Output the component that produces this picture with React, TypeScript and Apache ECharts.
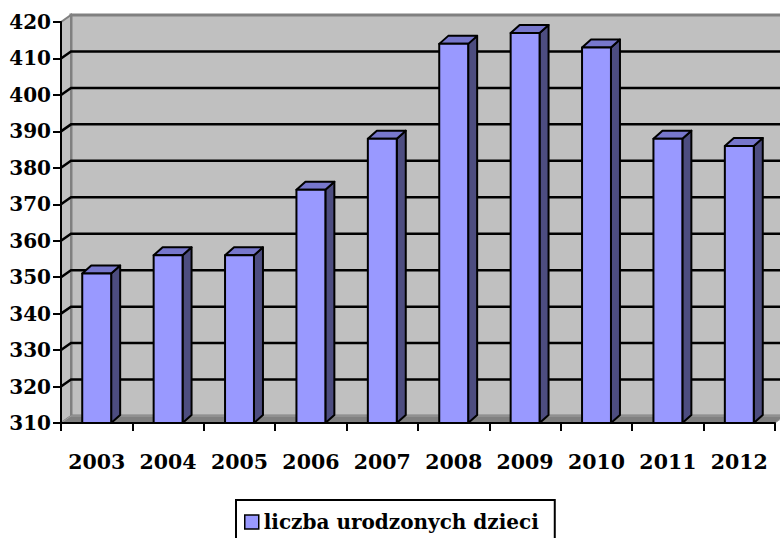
import React, { useEffect, useRef } from "react";
import * as echarts from "echarts";

const years = ["2003", "2004", "2005", "2006", "2007", "2008", "2009", "2010", "2011", "2012"];
const births = [351, 356, 356, 374, 388, 414, 417, 413, 388, 386];
const seriesName = "liczba urodzonych dzieci";
const yMin = 310;
const yMax = 420;
const yStep = 10;
const gridValues = [320, 330, 340, 350, 360, 370, 380, 390, 400, 410];

const FONT = "DejaVu Serif";

export default function App() {
  const ref = useRef<HTMLDivElement>(null);

  useEffect(() => {
    if (!ref.current) return;
    const chart = echarts.init(ref.current, null, { renderer: "svg" });
    const WDX = 10;
    const WDY = -7;
    const BDX = 9;
    const BDY = -8;

    const option: any = {
      animation: false,
      backgroundColor: "#ffffff",
      grid: { left: 61, right: 5, top: 22, bottom: 115, containLabel: false },
      legend: {
        show: true,
        left: 236,
        top: 500,
        padding: [12, 16, 40, 8],
        borderColor: "#000000",
        borderWidth: 2,
        itemWidth: 14,
        itemHeight: 14,
        textStyle: { fontFamily: FONT, fontWeight: "bold", fontSize: 20, color: "#000000" },
        data: [
          {
            name: seriesName,
            icon: "rect",
            itemStyle: { color: "#9999FF", borderColor: "#000000", borderWidth: 1.5 },
          },
        ],
      },
      xAxis: {
        type: "category",
        data: years,
        boundaryGap: true,
        z: 10,
        axisLine: { show: true, lineStyle: { color: "#000000", width: 2 } },
        axisTick: { show: true, length: 8, interval: 0, lineStyle: { color: "#000000", width: 2 } },
        axisLabel: {
          interval: 0,
          fontFamily: FONT,
          fontWeight: "bold",
          fontSize: 20.5,
          color: "#000000",
          margin: 28,
        },
        splitLine: { show: false },
      },
      yAxis: {
        type: "value",
        min: yMin,
        max: yMax,
        interval: yStep,
        z: 10,
        axisLine: { show: true, lineStyle: { color: "#000000", width: 2 } },
        axisTick: { show: true, length: 8, lineStyle: { color: "#000000", width: 2 } },
        axisLabel: {
          fontFamily: FONT,
          fontWeight: "bold",
          fontSize: 20,
          color: "#000000",
          margin: 10,
        },
        splitLine: { show: false },
      },
      series: [
        {
          type: "custom",
          name: "walls",
          z: 1,
          clip: false,
          silent: true,
          data: [[0, yMin]],
          renderItem: (params: any, api: any) => {
            const cs = params.coordSys;
            const x0 = cs.x;
            const y0 = cs.y;
            const x1 = cs.x + cs.width;
            const yb = cs.y + cs.height;
            const children: any[] = [];
            children.push({
              type: "polygon",
              shape: {
                points: [
                  [x0 + WDX, y0 + WDY],
                  [x1 + WDX, y0 + WDY],
                  [x1 + WDX, yb + WDY],
                  [x0 + WDX, yb + WDY],
                ],
              },
              style: { fill: "#C0C0C0", stroke: "#808080", lineWidth: 3 },
            });
            children.push({
              type: "polygon",
              shape: {
                points: [
                  [x0, y0],
                  [x0 + WDX, y0 + WDY],
                  [x0 + WDX, yb + WDY],
                  [x0, yb],
                ],
              },
              style: { fill: "#C0C0C0", stroke: "#808080", lineWidth: 2 },
            });
            children.push({
              type: "polygon",
              shape: {
                points: [
                  [x0, yb],
                  [x0 + WDX, yb + WDY],
                  [x1 + WDX, yb + WDY],
                  [x1, yb],
                ],
              },
              style: { fill: "#808080", stroke: "#A0A0A0", lineWidth: 1 },
            });
            gridValues.forEach((v) => {
              const y = api.coord([0, v])[1];
              children.push({
                type: "polyline",
                shape: {
                  points: [
                    [x0, y],
                    [x0 + WDX, y + WDY],
                    [x1 + WDX + 20, y + WDY],
                  ],
                },
                style: { stroke: "#000000", lineWidth: 2.5, fill: null },
              });
            });
            return { type: "group", children };
          },
        },
        {
          type: "custom",
          name: seriesName,
          z: 3,
          clip: false,
          itemStyle: { color: "#9999FF" },
          data: births.map((v, i) => [i, v]),
          renderItem: (params: any, api: any) => {
            const idx = api.value(0);
            const top = api.coord([idx, api.value(1)]);
            const bot = api.coord([idx, yMin]);
            const w = api.size([1, 0])[0] * 0.405;
            const xl = top[0] - w / 2;
            const xr = xl + w;
            const yt = top[1];
            const yb = bot[1];
            const stroke = { stroke: "#000000", lineWidth: 2, lineJoin: "round" };
            return {
              type: "group",
              children: [
                {
                  type: "polygon",
                  shape: {
                    points: [
                      [xr, yt],
                      [xr + BDX, yt + BDY],
                      [xr + BDX, yb + BDY],
                      [xr, yb],
                    ],
                  },
                  style: { fill: "#4D4D80", ...stroke },
                },
                {
                  type: "polygon",
                  shape: {
                    points: [
                      [xl, yt],
                      [xl + BDX, yt + BDY],
                      [xr + BDX, yt + BDY],
                      [xr, yt],
                    ],
                  },
                  style: { fill: "#7777CC", ...stroke },
                },
                {
                  type: "rect",
                  shape: { x: xl, y: yt, width: w, height: yb - yt },
                  style: { fill: "#9999FF", ...stroke },
                },
              ],
            };
          },
        },
      ],
    };

    chart.setOption(option);
    return () => chart.dispose();
  }, []);

  return (
    <div
      ref={ref}
      style={{ position: "fixed", left: 0, top: 0, width: 780, height: 538, background: "#fff" }}
    />
  );
}
